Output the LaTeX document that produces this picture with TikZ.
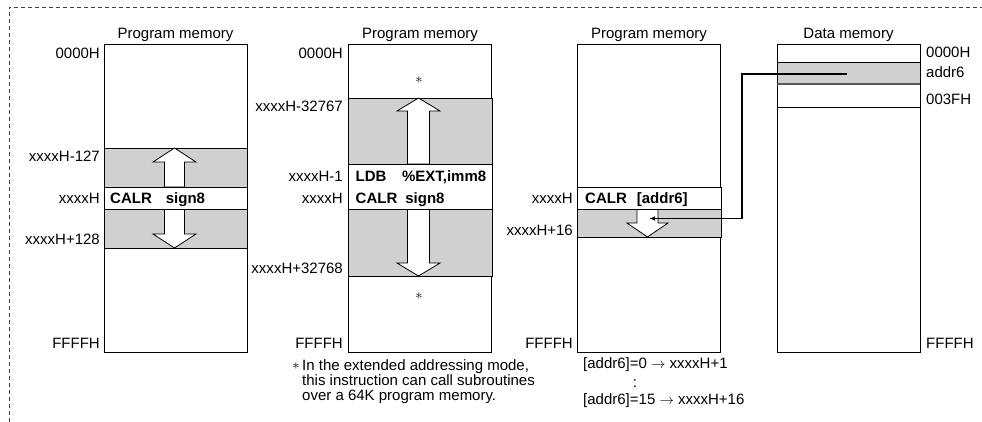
\documentclass[tikz,border=0pt]{standalone}
\usepackage{fontspec}
\setmainfont{Liberation Sans}
\usetikzlibrary{arrows.meta}
\definecolor{bandgray}{RGB}{208,208,208}
\newcommand\dgfont{\fontsize{15pt}{18pt}\selectfont}
\begin{document}
\begin{tikzpicture}[x=1pt,y=-1pt,
  lbl/.style={font=\dgfont, inner sep=0pt},
  bt/.style={font=\dgfont\bfseries, inner sep=0pt},
  membox/.style={draw=black, line width=0.8pt, fill=white, inner sep=0pt, anchor=north west, minimum width=143pt, minimum height=308pt},
  band/.style={fill=bandgray, draw=black, line width=0.8pt},
  wrow/.style={fill=white, draw=black, line width=0.8pt},
  fat/.style={fill=white, draw=black, line width=0.8pt, line join=miter},
  frame/.style={draw=black!75, dash pattern=on 4pt off 3pt, line width=0.7pt},
  link/.style={draw=black, line width=1.4pt, -{Latex[length=6pt,width=4.5pt]}}
]
\useasboundingbox (0,0) rectangle (982,422);
% dashed frame
\draw[frame] (9,422) -- (9,7) -- (982,7);

% ---------- Box 1 ----------
\node[membox] (pm1) at (104,44) {};
\node[lbl, anchor=base] (t1) at (175.5,39) {Program memory};
\draw[band] (104,148) rectangle (247,187);
\draw[band] (104,209) rectangle (247,248);
\draw[fat] (164.5,187) -- (164.5,162) -- (153,162) -- (174.5,148) -- (196,162) -- (184.5,162) -- (184.5,187) -- cycle;
\draw[fat] (164.5,209) -- (164.5,234) -- (153,234) -- (174.5,248) -- (196,234) -- (184.5,234) -- (184.5,209) -- cycle;
\draw[wrow] (104,187) rectangle (247,209);
\node[bt, anchor=base west] (i1) at (110,204) {CALR\hspace{14pt}sign8};
\node[lbl, anchor=base east] (a1a) at (100,59) {0000H};
\node[lbl, anchor=base east] (a1b) at (100,162) {xxxxH-127};
\node[lbl, anchor=base east] (a1c) at (100,204) {xxxxH};
\node[lbl, anchor=base east] (a1d) at (100,244) {xxxxH+128};
\node[lbl, anchor=base east] (a1e) at (100,348) {FFFFH};

% ---------- Box 2 ----------
\node[membox] (pm2) at (348,44) {};
\node[lbl, anchor=base] (t2) at (420,39) {Program memory};
\draw[band] (348,98) rectangle (492,164);
\draw[band] (348,209) rectangle (492,276);
\draw[fat] (407.5,164) -- (407.5,111) -- (397,111) -- (418.5,98) -- (440,111) -- (429.5,111) -- (429.5,164) -- cycle;
\draw[fat] (407.5,209) -- (407.5,263) -- (397,263) -- (418.5,276) -- (440,263) -- (429.5,263) -- (429.5,209) -- cycle;
\draw[wrow] (348,164) rectangle (492,209);
\node[bt, anchor=base west] (i2a) at (355.5,182) {LDB\hspace{15.5pt}\%EXT,imm8};
\node[bt, anchor=base west] (i2b) at (355.5,204) {CALR\hspace{8pt}sign8};
\node[lbl] (s2a) at (419,80) {$\ast$};
\node[lbl] (s2b) at (419,296) {$\ast$};
\node[lbl, anchor=base east] (a2a) at (343,59) {0000H};
\node[lbl, anchor=base east] (a2b) at (343,112) {xxxxH-32767};
\node[lbl, anchor=base east] (a2c) at (343,182) {xxxxH-1};
\node[lbl, anchor=base east] (a2d) at (343,204) {xxxxH};
\node[lbl, anchor=base east] (a2e) at (343,273) {xxxxH+32768};
\node[lbl, anchor=base east] (a2f) at (343,348) {FFFFH};
\node[lbl] (fs) at (296,366) {$\ast$};
\node[lbl, anchor=base west] (f1) at (302,370) {In the extended addressing mode,};
\node[lbl, anchor=base west] (f2) at (302,385) {this instruction can call subroutines};
\node[lbl, anchor=base west] (f3) at (302,400) {over a 64K program memory.};

% ---------- Box 3 ----------
\node[membox] (pm3) at (577,44) {};
\node[lbl, anchor=base] (t3) at (649,39) {Program memory};
\draw[band] (577,209) rectangle (721,237);
\draw[fat] (637,209) -- (637,223) -- (627,223) -- (647.5,237) -- (668,223) -- (658,223) -- (658,209) -- cycle;
\draw[wrow] (577,187) rectangle (721,209);
\node[bt, anchor=base west] (i3) at (585,204) {CALR\hspace{10pt}[addr6]};
\node[lbl, anchor=base east] (a3a) at (573,204) {xxxxH};
\node[lbl, anchor=base east] (a3b) at (573,235) {xxxxH+16};
\node[lbl, anchor=base east] (a3c) at (573,348) {FFFFH};
\node[lbl, anchor=base west] (b1) at (583,368) {[addr6]=0 $\rightarrow$ xxxxH+1};
\node[lbl, anchor=base] (b2) at (635,387) {:};
\node[lbl, anchor=base west] (b3) at (583,404) {[addr6]=15 $\rightarrow$ xxxxH+16};

% ---------- Data memory ----------
\node[membox] (dm) at (777,44) {};
\node[lbl, anchor=base] (t4) at (848.5,39) {Data memory};
\draw[band] (777,62) rectangle (920,84);
\draw[line width=1.3pt, black!65] (777,84) -- (920,84);
\draw[line width=0.8pt] (777,107) -- (920,107);
\node[lbl, anchor=base west] (d1) at (926,58) {0000H};
\node[lbl, anchor=base west] (d2) at (926,77.5) {addr6};
\node[lbl, anchor=base west] (d3) at (926,104.5) {003FH};
\node[lbl, anchor=base west] (d4) at (926,348) {FFFFH};

% ---------- connector ----------
\coordinate (src) at (847,74);
\coordinate (tgt) at (649,218.5);
\draw[link] (src) -- ++(-105,0) |- (tgt);
\end{tikzpicture}
\end{document}
